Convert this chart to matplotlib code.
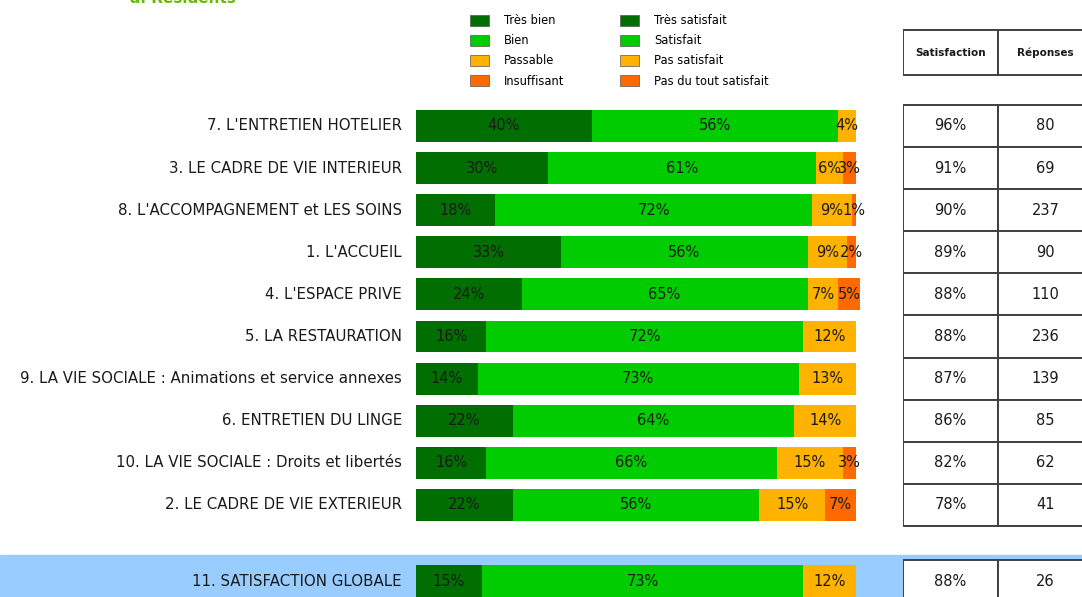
import matplotlib
matplotlib.use("Agg")
import matplotlib.pyplot as plt
from matplotlib.patches import Rectangle, Patch

# data
categories = [
    "7. L'ENTRETIEN HOTELIER",
    "3. LE CADRE DE VIE INTERIEUR",
    "8. L'ACCOMPAGNEMENT et LES SOINS",
    "1. L'ACCUEIL",
    "4. L'ESPACE PRIVE",
    "5. LA RESTAURATION",
    "9. LA VIE SOCIALE : Animations et service annexes",
    "6. ENTRETIEN DU LINGE",
    "10. LA VIE SOCIALE : Droits et libertés",
    "2. LE CADRE DE VIE EXTERIEUR",
]
tres_bien = [40, 30, 18, 33, 24, 16, 14, 22, 16, 22]
bien = [56, 61, 72, 56, 65, 72, 73, 64, 66, 56]
passable = [4, 6, 9, 9, 7, 12, 13, 14, 15, 15]
insuffisant = [0, 3, 1, 2, 5, 0, 0, 0, 3, 7]
satisfaction = ["96%", "91%", "90%", "89%", "88%", "88%", "87%", "86%", "82%", "78%"]
reponses = [80, 69, 237, 90, 110, 236, 139, 85, 62, 41]

global_label = "11. SATISFACTION GLOBALE"
global_values = [15, 73, 12, 0]
global_satisfaction = "88%"
global_reponses = 26

legend_left = ["Très bien", "Bien", "Passable", "Insuffisant"]
legend_right = ["Très satisfait", "Satisfait", "Pas satisfait", "Pas du tout satisfait"]
colors = ["#006e00", "#00cc00", "#ffb300", "#ff6a00"]

W, H = 1082, 597
fig = plt.figure(figsize=(W / 100, H / 100), dpi=100)
fig.patch.set_facecolor("white")

# main axes over the whole figure; x in %, y in row units
px_per_pct = 4.4
x0_px = 416
row0_px, row_step = 126, 42.1
ax = fig.add_axes([0, 0, 1, 1])
ax.set_xlim(-x0_px / px_per_pct, (W - x0_px) / px_per_pct)
ax.set_ylim((H - row0_px) / row_step, -row0_px / row_step)
ax.axis("off")

global_pos = (581 - row0_px) / row_step
ax.axhspan(global_pos - 0.62, global_pos + 0.6, color="#99ccff", zorder=0)

bar_h = 0.76
series = [tres_bien, bien, passable, insuffisant]


def draw_row(y, vals, label):
    left = 0
    for v, c in zip(vals, colors):
        if v > 0:
            ax.barh(y, v, left=left, height=bar_h, color=c, edgecolor="none", zorder=2)
            ax.text(left + v / 2, y, f"{v}%", ha="center", va="center",
                    fontsize=10.5, color="#1a1a1a", zorder=3)
        left += v
    ax.text(-3.2, y, label, ha="right", va="center", fontsize=10.8,
            color="#1a1a1a")


for i, cat in enumerate(categories):
    draw_row(i, [s[i] for s in series], cat)
draw_row(global_pos, global_values, global_label)

# title, mostly cut off at the top edge
ax.text(-65, (3 - row0_px) / row_step, "a. Résidents", ha="left", va="baseline",
        fontsize=11, fontweight="bold", color="#66bb00")

# table axes
tx0, tcol = 903, 95
tab = fig.add_axes([tx0 / W, 0, 2 * tcol / W, 1])
tab.set_xlim(0, 2)
tab.set_ylim(ax.get_ylim())
tab.axis("off")
tab.patch.set_alpha(0)

edge = dict(facecolor="white", edgecolor="#404040", linewidth=1.4, zorder=2)
hdr_top, hdr_bot = (30 - row0_px) / row_step, (75 - row0_px) / row_step
for j, name in enumerate(["Satisfaction", "Réponses"]):
    tab.add_patch(Rectangle((j, hdr_top), 1, hdr_bot - hdr_top, **edge))
    tab.text(j + 0.5, (hdr_top + hdr_bot) / 2, name, ha="center", va="center",
             fontsize=7.5, fontweight="bold", color="#1a1a1a", zorder=3)

for i in range(len(categories)):
    for j, val in enumerate([satisfaction[i], str(reponses[i])]):
        tab.add_patch(Rectangle((j, i - 0.5), 1, 1, **edge))
        tab.text(j + 0.5, i, val, ha="center", va="center", fontsize=10.5,
                 color="#1a1a1a", zorder=3)

g_top = (560 - row0_px) / row_step
for j, val in enumerate([global_satisfaction, str(global_reponses)]):
    tab.add_patch(Rectangle((j, g_top), 1, 1.2, **edge))
    tab.text(j + 0.5, global_pos, val, ha="center", va="center", fontsize=10.5,
             color="#1a1a1a", zorder=3)

# legends
for labels, xpx in [(legend_left, 462), (legend_right, 612)]:
    handles = [Patch(facecolor=c, edgecolor="#555555", linewidth=0.5) for c in colors]
    fig.legend(handles, labels, loc="upper left",
               bbox_to_anchor=(xpx / W, 1 - 6 / H), frameon=False,
               fontsize=8.3, handlelength=1.65, handleheight=1.1,
               labelspacing=0.62, handletextpad=1.3, borderpad=0.2)

fig.savefig("out.png", dpi=100)
